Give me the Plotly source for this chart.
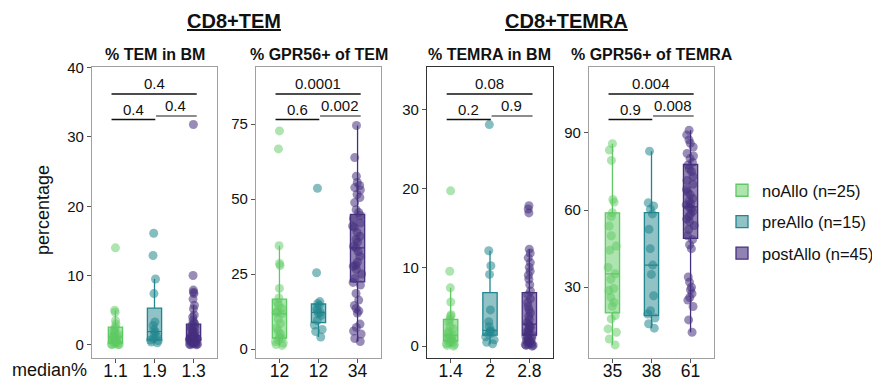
import plotly.graph_objects as go

# ---------------- data ----------------
groups = ["noAllo", "preAllo", "postAllo"]
legend_names = ["noAllo (n=25)", "preAllo (n=15)", "postAllo (n=45)"]

# Panel 1: % TEM in BM
tem_bm_no = [14.0, 5.0, 4.7, 3.5, 3.0, 2.6, 2.3, 2.0, 1.8, 1.5, 1.3, 1.2, 1.1, 1.0, 0.9,
             0.8, 0.6, 0.5, 0.4, 0.3, 0.2, 0.1, 0.05, 0.0, 0.0]
tem_bm_pre = [16.1, 12.9, 9.5, 7.4, 3.3, 2.8, 2.2, 1.9, 1.6, 1.2, 0.9, 0.7, 0.6, 0.4, 0.3]
tem_bm_post = [31.8, 10.0, 7.9, 7.6, 7.4, 6.6, 5.7, 5.2, 4.3, 4.0, 3.5, 3.2, 3.0, 2.8, 2.6,
               2.4, 2.2, 2.0, 1.8, 1.6, 1.5, 1.4, 1.3, 1.2, 1.1, 1.0, 1.0, 0.9, 0.9, 0.8,
               0.8, 0.7, 0.7, 0.6, 0.5, 0.5, 0.4, 0.3, 0.3, 0.2, 0.2, 0.1, 0.1, 0.0, 0.0]
# Panel 2: % GPR56+ of TEM
gpr_tem_no = [72.7, 66.7, 34.4, 28.5, 27.8, 20.2, 17.0, 15.5, 14.5, 13.5, 12.5, 12.2, 11.7,
              10.0, 8.5, 7.0, 6.0, 5.0, 4.0, 3.5, 3.0, 2.5, 2.0, 1.5, 1.2]
gpr_tem_pre = [53.6, 25.4, 15.8, 15.2, 14.6, 13.5, 12.8, 12.2, 11.8, 11.2, 9.5, 8.0, 6.5, 5.8, 4.0]
gpr_tem_post = [74.5, 63.8, 57.6, 55.5, 54.5, 53.8, 53.0, 51.5, 50.5, 48.8, 46.4, 45.5, 44.5,
                43.5, 42.0, 41.0, 40.6, 38.9, 37.6, 36.5, 35.7, 34.2, 33.7, 32.5, 30.9, 29.0,
                28.0, 27.6, 26.5, 25.0, 23.5, 22.2, 21.3, 18.5, 16.3, 14.5, 13.5, 12.7, 12.0,
                8.3, 7.2, 6.0, 5.0, 3.5, 2.5]
# Panel 3: % TEMRA in BM
temra_bm_no = [19.7, 9.5, 7.4, 5.6, 4.0, 3.8, 3.4, 3.1, 2.5, 2.2, 1.9, 1.6, 1.4, 1.3, 1.1,
               1.0, 0.9, 0.8, 0.6, 0.5, 0.4, 0.3, 0.2, 0.1, 0.0]
temra_bm_pre = [28.1, 12.1, 10.2, 9.1, 4.6, 3.1, 2.5, 2.0, 1.9, 1.7, 1.5, 1.2, 0.8, 0.5, 0.3]
temra_bm_post = [17.8, 17.4, 16.9, 12.3, 11.8, 11.2, 10.6, 10.0, 9.5, 9.0, 8.5, 7.8, 7.0, 6.5,
                 6.0, 5.5, 5.0, 4.6, 4.2, 3.8, 3.4, 3.0, 2.8, 2.6, 2.4, 2.2, 2.0, 1.8, 1.6,
                 1.4, 1.3, 1.2, 1.0, 0.9, 0.8, 0.7, 0.6, 0.5, 0.4, 0.3, 0.2, 0.2, 0.1, 0.1, 0.0]
# Panel 4: % GPR56+ of TEMRA
gpr_temra_no = [85.8, 83.3, 79.3, 64.1, 63.1, 59.0, 57.5, 53.8, 50.0, 46.0, 44.4, 37.7, 35.2,
                33.1, 29.5, 28.7, 26.1, 24.1, 22.6, 19.0, 17.7, 13.8, 12.5, 9.9, 7.6]
gpr_temra_pre = [82.9, 62.8, 61.6, 60.3, 58.5, 52.5, 45.0, 38.6, 35.0, 26.7, 20.9, 19.6, 18.0,
                 15.8, 14.1]
gpr_temra_post = [91.0, 89.2, 87.3, 86.0, 84.5, 82.0, 81.0, 80.0, 78.5, 77.5, 76.0, 75.0, 73.0,
                  71.5, 70.0, 68.0, 67.0, 66.0, 64.5, 63.5, 62.5, 62.0, 61.2, 60.5, 59.5, 58.5,
                  57.5, 56.5, 55.5, 54.0, 52.5, 50.0, 48.5, 46.5, 45.0, 34.0, 32.0, 30.0, 29.0,
                  27.5, 26.0, 25.0, 22.5, 17.3, 12.5]

# box statistics (per panel: noAllo, preAllo, postAllo)
q1_vals = [[0.24, 0.67, 0.67], [3.6, 8.8, 22.4], [0.63, 1.4, 1.4], [20.0, 19.0, 49.0]]
median_vals = [[1.1, 1.9, 1.3], [11.7, 12.2, 33.7], [1.4, 2.0, 2.8], [35.2, 38.6, 61.2]]
q3_vals = [[2.56, 5.3, 3.0], [16.6, 15.0, 44.9], [3.4, 6.8, 6.8], [58.9, 59.0, 77.7]]
lower_vals = [[0.0, 0.3, 0.0], [1.2, 4.0, 2.5], [0.0, 0.3, 0.0], [7.6, 14.1, 12.5]]
upper_vals = [[5.0, 9.5, 5.7], [34.4, 15.8, 74.5], [7.4, 12.1, 12.3], [85.8, 82.9, 91.0]]

median_labels = [["1.1", "1.9", "1.3"], ["12", "12", "34"], ["1.4", "2", "2.8"], ["35", "38", "61"]]
panel_titles = ["% TEM in BM", "% GPR56+ of TEM", "% TEMRA in BM", "% GPR56+ of TEMRA"]
pvals_top = ["0.4", "0.0001", "0.08", "0.004"]
pvals_left = ["0.4", "0.6", "0.2", "0.9"]
pvals_right = ["0.4", "0.002", "0.9", "0.008"]
y_ticks = [[0, 10, 20, 30, 40], [0, 25, 50, 75], [0, 10, 20, 30], [30, 60, 90]]

panel_data = [
    [tem_bm_no, tem_bm_pre, tem_bm_post],
    [gpr_tem_no, gpr_tem_pre, gpr_tem_post],
    [temra_bm_no, temra_bm_pre, temra_bm_post],
    [gpr_temra_no, gpr_temra_pre, gpr_temra_post],
]

# ---------------- style / layout ----------------
OFF = 8                      # page body margin
W, H = 880 - OFF, 381 - OFF  # figure size so that it fits the window


def px(xp):
    return (xp - OFF) / W


def py(yp):
    return 1 - (yp - OFF) / H


FONT = "Arial, 'Liberation Sans', sans-serif"
line_colors = ["#5ec962", "#21868e", "#46307e"]
fill_colors = ["rgba(94,201,98,0.5)", "rgba(33,134,142,0.5)", "rgba(70,48,126,0.6)"]
point_colors = ["rgba(94,201,98,0.5)", "rgba(33,134,142,0.55)", "rgba(70,48,126,0.55)"]

x_px = [(92, 217), (256, 381), (427, 553), (589, 714)]
y_dom = [py(358), py(67)]
y_ranges = [[-1.9, 40.1], [-3.0, 94.0], [-1.5, 35.4], [2.5, 115.6]]
frame_colors = ["#a0a0a0", "#a0a0a0", "#333333", "#a0a0a0"]

fig = go.Figure()
layout = dict(
    width=W, height=H,
    margin=dict(l=0, r=0, t=0, b=0, autoexpand=False),
    paper_bgcolor="white", plot_bgcolor="white",
    font=dict(family=FONT, color="#111111"),
    boxmode="overlay", boxgap=0.48,
    showlegend=True,
    legend=dict(x=px(722), y=py(173), xanchor="left", yanchor="top",
                font=dict(size=16.5, family=FONT, color="#111111"),
                tracegroupgap=7, bgcolor="rgba(0,0,0,0)"),
)
shapes = []
annotations = []

for p in range(4):
    sfx = "" if p == 0 else str(p + 1)
    xa, ya = "x" + sfx, "y" + sfx
    for g in range(3):
        fig.add_trace(go.Box(
            x=[groups[g]],
            y=[panel_data[p][g]],
            q1=[q1_vals[p][g]], median=[median_vals[p][g]], q3=[q3_vals[p][g]],
            lowerfence=[lower_vals[p][g]], upperfence=[upper_vals[p][g]],
            name=legend_names[g], legendgroup=groups[g], showlegend=(p == 0),
            boxpoints="all", jitter=0.75, pointpos=0,
            marker=dict(color=point_colors[g], size=9, line=dict(width=0)),
            line=dict(color=line_colors[g], width=1.3),
            fillcolor=fill_colors[g],
            whiskerwidth=0,
            hoverinfo="skip",
            xaxis=xa, yaxis=ya,
        ))
    x0, x1 = x_px[p]
    layout["xaxis" + sfx] = dict(
        domain=[px(x0), px(x1)], anchor=ya, type="category",
        categoryorder="array", categoryarray=groups, range=[-0.6, 2.6],
        tickmode="array", tickvals=groups, ticktext=median_labels[p],
        ticks="outside", ticklen=4, tickcolor="#555555", ticklabelstandoff=-7,
        tickfont=dict(size=17.5, color="#111111"),
        showline=True, mirror=True, linecolor=frame_colors[p], linewidth=1.3,
        showgrid=False, zeroline=False, fixedrange=True, automargin=False,
    )
    layout["yaxis" + sfx] = dict(
        domain=y_dom, anchor=xa, range=y_ranges[p],
        tickmode="array", tickvals=y_ticks[p],
        ticks="outside", ticklen=4, tickcolor="#555555",
        tickfont=dict(size=15, color="#111111"),
        showline=True, mirror=True, linecolor=frame_colors[p], linewidth=1.3,
        showgrid=False, zeroline=False, fixedrange=True, automargin=False,
    )
    # significance brackets (in axis-domain units vertically)
    yd = ya + " domain"
    top_f, left_f, right_f = (358 - 94) / 291, (358 - 119.5) / 291, (358 - 116) / 291
    shapes.append(dict(type="line", xref=xa, yref=yd, x0=-0.1, x1=2.08, y0=top_f, y1=top_f,
                       line=dict(color="#111111", width=1.3)))
    shapes.append(dict(type="line", xref=xa, yref=yd, x0=-0.1, x1=1.02, y0=left_f, y1=left_f,
                       line=dict(color="#111111", width=1.3)))
    shapes.append(dict(type="line", xref=xa, yref=yd, x0=1.04, x1=2.08, y0=right_f, y1=right_f,
                       line=dict(color="#666666", width=1.3)))
    for xx, yy, tt in [(0.99, top_f, pvals_top[p]), (0.45, left_f, pvals_left[p]),
                       (1.55, right_f, pvals_right[p])]:
        annotations.append(dict(xref=xa, yref=yd, x=xx, y=yy, text=tt, showarrow=False,
                                xanchor="center", yanchor="bottom",
                                font=dict(size=15, color="#111111")))
    # panel title
    annotations.append(dict(xref="paper", yref="paper", x=px((x0 + x1) / 2), y=py(55),
                            text="<b>" + panel_titles[p] + "</b>", showarrow=False,
                            xanchor="center", yanchor="middle",
                            font=dict(size=16, color="#111111")))

# group titles
annotations.append(dict(xref="paper", yref="paper", x=px(234), y=py(21),
                        text="<b><u>CD8+TEM</u></b>", showarrow=False,
                        xanchor="center", yanchor="middle",
                        font=dict(size=20, color="#111111")))
annotations.append(dict(xref="paper", yref="paper", x=px(566), y=py(21),
                        text="<b><u>CD8+TEMRA</u></b>", showarrow=False,
                        xanchor="center", yanchor="middle",
                        font=dict(size=20, color="#111111")))
# y title and median row label
annotations.append(dict(xref="paper", yref="paper", x=px(43), y=py(210),
                        text="percentage", textangle=-90, showarrow=False,
                        xanchor="center", yanchor="middle",
                        font=dict(size=18, color="#111111")))
annotations.append(dict(xref="paper", yref="paper", x=px(49), y=py(370),
                        text="median%", showarrow=False,
                        xanchor="center", yanchor="middle",
                        font=dict(size=18, color="#111111")))

layout["shapes"] = shapes
layout["annotations"] = annotations
fig.update_layout(**layout)
fig.write_html("out.html")
